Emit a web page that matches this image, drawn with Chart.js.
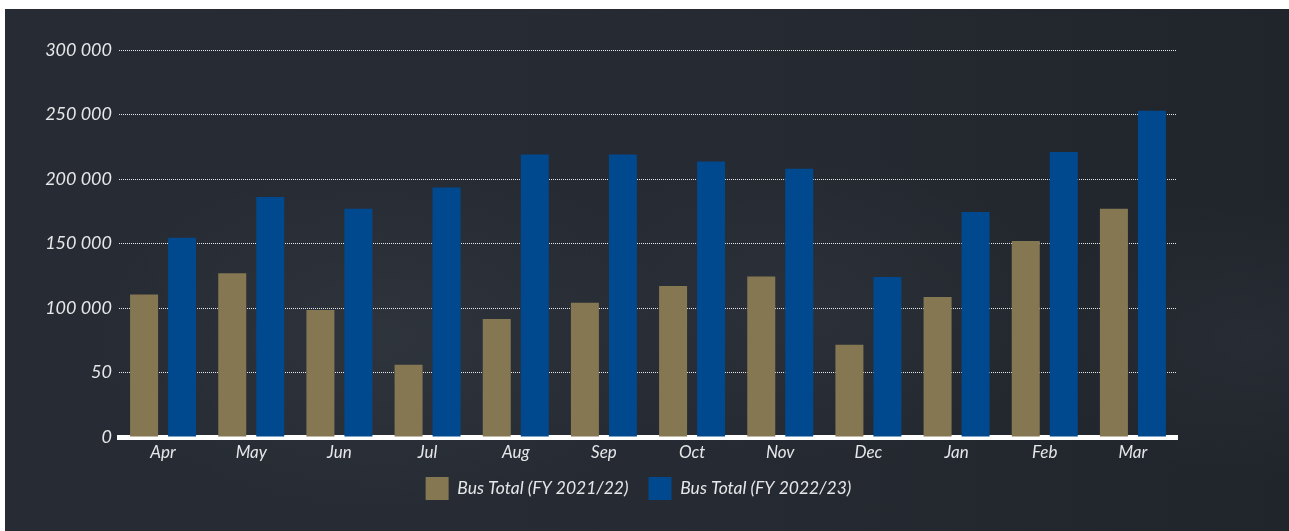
<!DOCTYPE html>
<html>
<head>
<meta charset="utf-8">
<script src="https://cdn.jsdelivr.net/npm/chart.js@4.4.1/dist/chart.umd.min.js"></script>
<style>
    html, body { margin: 0; padding: 0; background: #ffffff; }
    #board {
        position: absolute; left: 5px; top: 9px; right: 0; bottom: 0;
        background:
            radial-gradient(ellipse 420px 260px at 380px 330px, rgba(60,66,76,0.35), rgba(0,0,0,0) 70%),
            radial-gradient(ellipse 360px 220px at 800px 300px, rgba(58,62,72,0.30), rgba(0,0,0,0) 70%),
            radial-gradient(ellipse 300px 200px at 1250px 330px, rgba(52,56,66,0.35), rgba(0,0,0,0) 70%),
            linear-gradient(90deg, #272c34 0%, #262b33 55%, #20252c 100%);
    }
    #wrap { position: absolute; left: 0; top: 0; width: 1289px; height: 531px; }
</style>
</head>
<body>
<div id="board"></div>
<div id="wrap"><canvas id="busChart"></canvas></div>
<script>
// Месяцы финансового года
const months = ['Apr', 'May', 'Jun', 'Jul', 'Aug', 'Sep', 'Oct', 'Nov', 'Dec', 'Jan', 'Feb', 'Mar'];

// Пассажиропоток автобусов по месяцам
const busTotal2122 = [110500, 127000, 98500, 56000, 91500, 104000, 117000, 124500, 71500, 108500, 152000, 177000];
const busTotal2223 = [154500, 186000, 177000, 193500, 219000, 219000, 213500, 208000, 124000, 174500, 221000, 253000];

// Подписи оси Y
const yTickValues = [0, 50000, 100000, 150000, 200000, 250000, 300000];
const yTickLabels = ['0', '50', '100 000', '150 000', '200 000', '250 000', '300 000'];

const labelColor = '#e6e7e9';
const italicFont = (size) => ({ family: 'Lato', size: size, style: 'italic' });

// Сдвигаем легенду: по центру холста и чуть ближе к оси
const legendShift = {
    id: 'legendShift',
    afterLayout(chart) {
        const lg = chart.legend;
        lg.left += 50;
        lg.right += 50;
        lg.top -= 10;
        lg.bottom -= 10;
    }
};

const ctx = document.getElementById('busChart').getContext('2d');

const chart = new Chart(ctx, {
    type: 'bar',
    data: {
        labels: months,
        datasets: [{
            label: 'Bus Total (FY 2021/22)',
            data: busTotal2122,
            backgroundColor: '#847752',
            borderWidth: 0
        }, {
            label: 'Bus Total (FY 2022/23)',
            data: busTotal2223,
            backgroundColor: '#00498f',
            borderWidth: 0
        }]
    },
    plugins: [legendShift],
    options: {
        responsive: true,
        maintainAspectRatio: false,
        animation: false,
        datasets: {
            bar: {
                categoryPercentage: 0.862,
                barPercentage: 0.737
            }
        },
        layout: {
            padding: { left: 0, right: 112, top: 50, bottom: 11 }
        },
        plugins: {
            tooltip: { enabled: false },
            legend: {
                position: 'bottom',
                labels: {
                    boxWidth: 23,
                    boxHeight: 23,
                    padding: 20,
                    color: labelColor,
                    font: italicFont(17.5)
                }
            }
        },
        scales: {
            x: {
                z: 1,
                grid: { display: false },
                border: { display: true, color: '#ffffff', width: 5 },
                ticks: {
                    color: labelColor,
                    font: italicFont(17),
                    padding: -3
                },
                afterFit: (scale) => { scale.height = 30; }
            },
            y: {
                min: 0,
                max: 300000,
                afterBuildTicks: (scale) => {
                    scale.ticks = yTickValues.map(v => ({ value: v }));
                },
                grid: {
                    color: 'rgba(240, 241, 243, 0.95)',
                    lineWidth: 1,
                    drawTicks: false
                },
                border: { display: false, dash: [1, 1] },
                ticks: {
                    color: labelColor,
                    font: italicFont(18),
                    padding: 7,
                    callback: (value) => yTickLabels[yTickValues.indexOf(value)]
                },
                afterFit: (scale) => { scale.width = 119; }
            }
        }
    }
});
</script>
</body>
</html>
